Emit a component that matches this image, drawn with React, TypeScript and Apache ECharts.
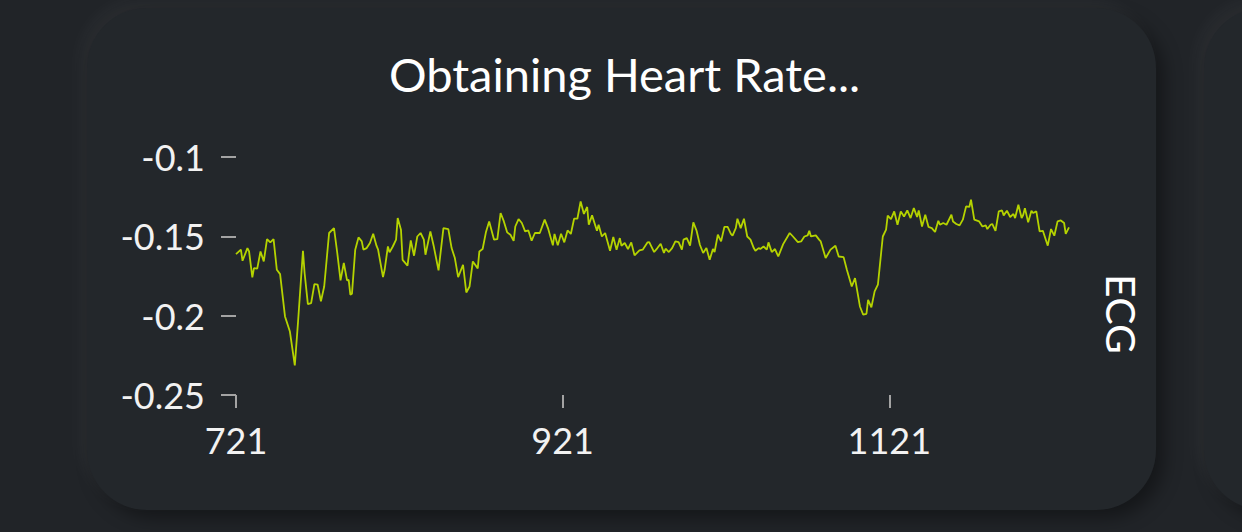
import React, { useEffect, useRef } from "react";
import * as echarts from "echarts";

const titleText = "Obtaining Heart Rate...";
const axisName = "ECG";
const xTicks = [721, 921, 1121];
const yTicks = [-0.25, -0.2, -0.15, -0.1];

const xValues = [
  721, 724, 725, 728, 729, 731, 732, 734, 736, 738, 740, 742, 744, 746, 748, 751, 754, 757, 759, 762,
  763, 765, 767, 769, 771, 773, 775, 778, 781, 783, 785, 787, 789, 790, 791, 792, 794, 796, 798, 799,
  801, 803, 805, 807, 808, 811, 812, 814, 815, 817, 819, 820,
  822, 823, 826, 828, 830, 832, 834, 836, 837, 840, 842, 845, 848, 851, 853, 855, 857, 860, 862, 864,
  866, 869, 870, 872, 874, 876, 879, 881, 883, 885, 887, 889, 891, 892, 894, 896, 898, 900, 902, 904,
  907, 910, 912, 915, 916, 918, 920, 922, 924,
  926, 928, 930, 932, 934, 936, 937, 939, 942, 943, 945, 947, 950, 952, 954, 956, 957, 959, 961, 963,
  965, 968, 970, 973, 974, 977, 979, 981, 983, 984, 986, 988, 990, 992, 994, 995, 997, 999, 1001, 1003,
  1005, 1007, 1009, 1011, 1013, 1014, 1016, 1018, 1020, 1022, 1024, 1025, 1027,
  1028, 1030, 1032, 1034, 1036, 1038, 1039, 1041, 1042, 1044, 1046, 1047, 1049, 1051, 1053, 1056, 1060, 1062, 1065, 1067,
  1069, 1071, 1072, 1073, 1076, 1078, 1079, 1082, 1085, 1088, 1090, 1093, 1095, 1098, 1100, 1103, 1105, 1107, 1108, 1110,
  1112, 1114, 1117, 1119, 1120, 1122, 1124, 1126, 1128, 1130,
  1132, 1134, 1136, 1138, 1139, 1141, 1143, 1145, 1147, 1149, 1151, 1152, 1154, 1156, 1159, 1160, 1162, 1164, 1166, 1168,
  1170, 1171, 1173, 1176, 1178, 1180, 1181, 1183, 1184, 1186, 1188, 1190, 1191, 1193, 1195, 1197, 1198, 1200, 1202, 1203,
  1204, 1206, 1208, 1209, 1211, 1213, 1215, 1218, 1220, 1222, 1224, 1226, 1228, 1229, 1231,
];

const ecgValues = [
  -0.1612, -0.1584, -0.1654, -0.1574, -0.1595, -0.1759, -0.17, -0.1704, -0.1595, -0.1658,
  -0.1517, -0.1538, -0.1517, -0.1711, -0.1738, -0.2005, -0.21, -0.2314, -0.2037, -0.1591,
  -0.1731, -0.1927, -0.1921, -0.1801, -0.1805, -0.191, -0.1816, -0.1479, -0.1448, -0.1605,
  -0.1778, -0.1668, -0.1778, -0.1774, -0.1868, -0.1862, -0.1584, -0.1507, -0.1532, -0.1584,
  -0.1574, -0.1542, -0.1484, -0.1559, -0.1584, -0.1757, -0.1711, -0.1564, -0.1601, -0.1564,
  -0.1521, -0.1385,
  -0.1458, -0.1648, -0.1685, -0.1526, -0.1622, -0.1501, -0.1479, -0.1521, -0.1616, -0.1469,
  -0.1559, -0.1715, -0.1448, -0.1454, -0.1574, -0.1637, -0.1757, -0.1679, -0.1854, -0.1816,
  -0.1658, -0.1702, -0.1595, -0.158, -0.1475, -0.1406, -0.1521, -0.1517, -0.1353, -0.1406,
  -0.1475, -0.149, -0.1528, -0.1438, -0.1391, -0.1416, -0.1469, -0.1463, -0.1528, -0.1479,
  -0.1479, -0.1395, -0.1448, -0.1557, -0.1485, -0.1557, -0.1484, -0.1538, -0.1463,
  -0.1485, -0.1389, -0.1389, -0.128, -0.1359, -0.1315, -0.1427, -0.1368, -0.1465, -0.1427,
  -0.1501, -0.1479, -0.1591, -0.1504, -0.1584, -0.1511, -0.1559, -0.1542, -0.158, -0.1538,
  -0.162, -0.1589, -0.1584, -0.1538, -0.1536, -0.1599, -0.1574, -0.1547, -0.1605, -0.1578,
  -0.1599, -0.1574, -0.1532, -0.1536, -0.1584, -0.1521, -0.1511, -0.1559, -0.1412, -0.1465,
  -0.1553, -0.1605, -0.1574, -0.1648, -0.158, -0.1599, -0.149, -0.1532, -0.1441, -0.1441,
  -0.1485, -0.1496, -0.1448,
  -0.1389, -0.1448, -0.1389, -0.1501, -0.1521, -0.1574, -0.1591, -0.1574, -0.158, -0.1564,
  -0.1584, -0.1538, -0.1599, -0.158, -0.1627, -0.1549, -0.1479, -0.1501, -0.1536, -0.1532,
  -0.1501, -0.1494, -0.1465, -0.1501, -0.1494, -0.1521, -0.1532, -0.1637, -0.1584, -0.1559,
  -0.1627, -0.1631, -0.1711, -0.1816, -0.1763, -0.1942, -0.1994, -0.1988, -0.19, -0.1948,
  -0.1847, -0.1805, -0.1501, -0.1458, -0.137, -0.1391, -0.1343, -0.1427, -0.1343, -0.1375,
  -0.1337, -0.1385, -0.1322, -0.1378, -0.1337, -0.1438, -0.1364, -0.1441, -0.1448, -0.1473,
  -0.1402, -0.1427, -0.1416, -0.1427, -0.1364, -0.1406, -0.1422, -0.1431, -0.1395, -0.1311,
  -0.1315, -0.1269, -0.1395, -0.1406, -0.1438, -0.1431, -0.1454, -0.1427, -0.1422, -0.1465,
  -0.1343, -0.1337, -0.1368, -0.1339, -0.1378, -0.1359, -0.1385, -0.1301, -0.1385, -0.1364,
  -0.1322, -0.1412, -0.1339, -0.1353, -0.1343, -0.1469, -0.1465, -0.1559, -0.1454, -0.1496,
  -0.1406, -0.14, -0.1416, -0.1485, -0.1444,
];

const cardStyle: React.CSSProperties = {
  position: "absolute",
  top: 8,
  width: 1069,
  height: 502,
  borderRadius: 60,
  background: "#23272b",
  boxShadow: "-7px -7px 18px rgba(255,255,255,0.045), 8px 8px 18px rgba(0,0,0,0.38)",
};

export default function App() {
  const ref = useRef<HTMLDivElement>(null);

  useEffect(() => {
    if (!ref.current) return;
    const chart = echarts.init(ref.current, null, { renderer: "svg" });
    const seriesData = xValues.map((x, i) => [x, ecgValues[i]]);
    chart.setOption({
      animation: false,
      backgroundColor: "transparent",
      title: {
        text: titleText,
        left: 384,
        top: 45,
        textStyle: {
          color: "#ffffff",
          fontSize: 47,
          fontWeight: "normal",
          fontFamily: "Lato",
        },
      },
      grid: { left: 236, right: 173, top: 157, bottom: 137, containLabel: false },
      xAxis: {
        type: "value",
        min: 721,
        max: 1231,
        axisLine: { show: false },
        splitLine: { show: false },
        axisTick: {
          show: true,
          customValues: xTicks,
          length: 13,
          lineStyle: { color: "#a3a3a3", width: 2 },
        },
        axisLabel: {
          customValues: xTicks,
          color: "#f2f2f2",
          fontSize: 36,
          fontFamily: "Lato",
          margin: 27,
          formatter: (v: number) => String(v),
        },
      },
      yAxis: {
        type: "value",
        min: -0.25,
        max: -0.1,
        axisLine: { show: false },
        splitLine: { show: false },
        axisTick: {
          show: true,
          customValues: yTicks,
          length: 15,
          lineStyle: { color: "#a3a3a3", width: 2 },
        },
        axisLabel: {
          customValues: yTicks,
          color: "#f2f2f2",
          fontSize: 36,
          fontFamily: "Lato",
          margin: 31,
          formatter: (v: number) => String(v),
        },
      },
      graphic: [
        {
          type: "text",
          x: 1121,
          y: 314,
          rotation: -Math.PI / 2,
          style: {
            text: axisName,
            fill: "#ffffff",
            fontSize: 41,
            fontFamily: "Lato",
            align: "center",
            verticalAlign: "middle",
          },
        },
      ],
      series: [
        {
          type: "line",
          data: seriesData,
          showSymbol: false,
          silent: true,
          lineStyle: { color: "#b5d300", width: 1.8 },
        },
      ],
    });
    return () => chart.dispose();
  }, []);

  return (
    <div
      style={{
        position: "fixed",
        left: 0,
        top: 0,
        width: 1242,
        height: 532,
        background: "#212428",
        overflow: "hidden",
      }}
    >
      <div style={{ ...cardStyle, left: 87 }} />
      <div style={{ ...cardStyle, left: 1204 }} />
      <div ref={ref} style={{ position: "absolute", left: 0, top: 0, width: 1242, height: 532 }} />
    </div>
  );
}
